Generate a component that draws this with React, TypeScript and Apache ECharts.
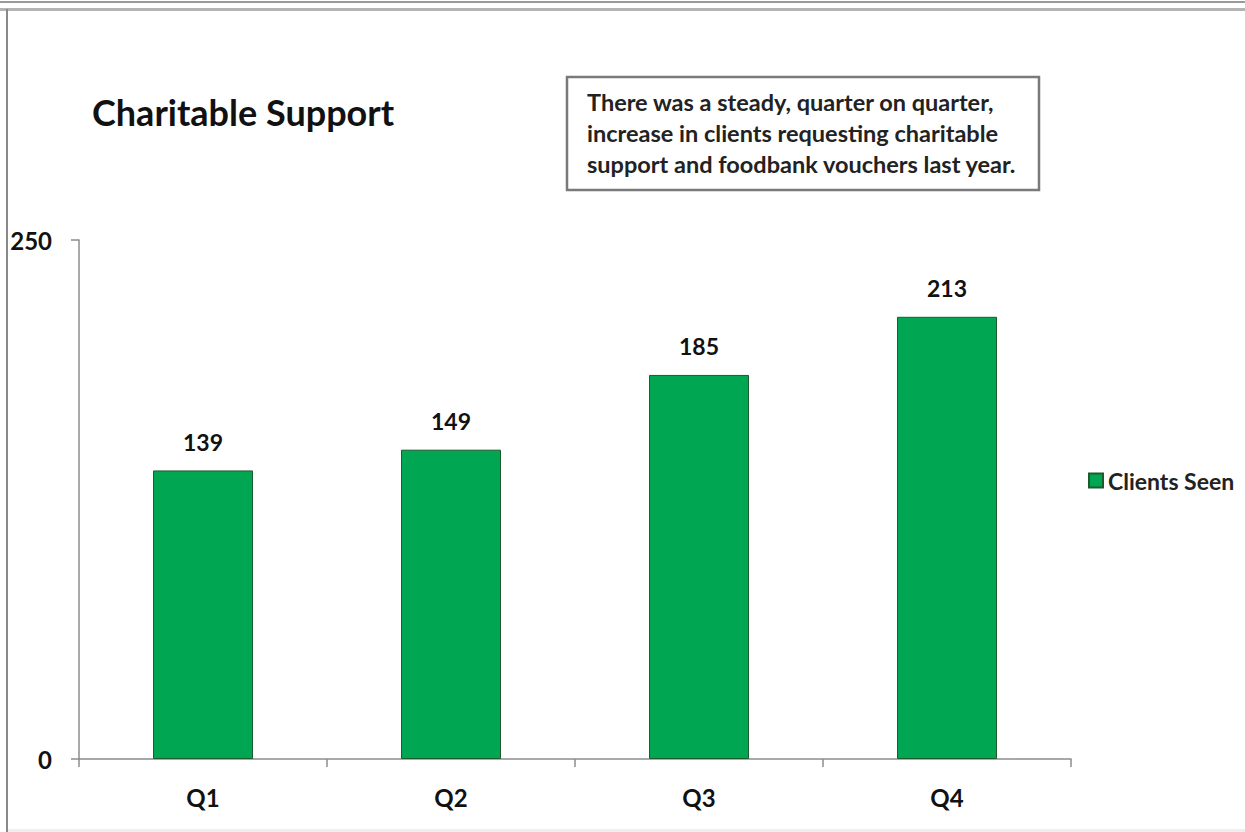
import React, { useEffect, useRef } from "react";
import * as echarts from "echarts";

const categories = ["Q1", "Q2", "Q3", "Q4"];
const clientsSeen = [139, 149, 185, 213];
const yTicks = [0, 250];
const seriesName = "Clients Seen";
const titleText = "Charitable Support";
const noteLines = [
  "There was a steady, quarter on quarter,",
  "increase in clients requesting charitable",
  "support and foodbank vouchers last year.",
];

const FONT = "Lato, 'Open Sans', sans-serif";

export default function App() {
  const ref = useRef<HTMLDivElement>(null);
  useEffect(() => {
    if (!ref.current) return;
    const chart = echarts.init(ref.current, null, { renderer: "svg" });
    chart.setOption({
      animation: false,
      backgroundColor: "#ffffff",
      textStyle: { fontFamily: FONT },
      title: {
        text: titleText,
        left: 87,
        top: 89,
        textStyle: { fontFamily: FONT, fontSize: 36, fontWeight: "bold", color: "#111" },
      },
      legend: {
        data: [seriesName],
        orient: "vertical",
        left: 1088,
        top: 469,
        padding: 0,
        itemWidth: 14,
        itemHeight: 14,
        textStyle: { fontFamily: FONT, fontSize: 23, fontWeight: "bold", color: "#222" },
        icon: "rect",
      },
      grid: { left: 79, top: 240, right: 174, bottom: 73, containLabel: false },
      xAxis: {
        type: "category",
        data: categories,
        boundaryGap: true,
        axisLine: { show: true, lineStyle: { color: "#8c8c8c", width: 1.5 } },
        axisTick: { show: true, alignWithLabel: false, length: 8, lineStyle: { color: "#8c8c8c", width: 1.5 } },
        axisLabel: { fontFamily: FONT, fontSize: 24, fontWeight: "bold", color: "#111", margin: 26 },
        splitLine: { show: false },
      },
      yAxis: {
        type: "value",
        min: yTicks[0],
        max: yTicks[yTicks.length - 1],
        interval: yTicks[yTicks.length - 1] - yTicks[0],
        axisLine: { show: true, lineStyle: { color: "#8c8c8c", width: 1.5 } },
        axisTick: { show: true, length: 8, lineStyle: { color: "#8c8c8c", width: 1.5 } },
        axisLabel: { fontFamily: FONT, fontSize: 24, fontWeight: "bold", color: "#111", margin: 27 },
        splitLine: { show: false },
      },
      series: [
        {
          name: seriesName,
          type: "bar",
          data: clientsSeen,
          barWidth: 100,
          itemStyle: { color: "#00a651", borderColor: "#1d5a2e", borderWidth: 1 },
          label: {
            show: true,
            position: "top",
            distance: 17,
            fontFamily: FONT,
            fontSize: 23,
            fontWeight: "bold",
            color: "#111",
          },
        },
      ],
      graphic: [
        { type: "rect", shape: { x: 0, y: 1, width: 1245, height: 2 }, style: { fill: "#9a9a9a" }, silent: true },
        { type: "rect", shape: { x: 0, y: 8, width: 1245, height: 3 }, style: { fill: "#b4b4b4" }, silent: true },
        { type: "rect", shape: { x: 6, y: 9, width: 2, height: 823 }, style: { fill: "#8a8a8a" }, silent: true },
        { type: "rect", shape: { x: 8, y: 829, width: 1237, height: 3 }, style: { fill: "#eeeeee" }, silent: true },
        {
          type: "rect",
          shape: { x: 567, y: 77, width: 472, height: 113 },
          style: { fill: "#ffffff", stroke: "#7a7a7a", lineWidth: 2.5 },
          silent: true,
        },
        {
          type: "text",
          left: 587,
          top: 86,
          style: {
            text: noteLines.join("\n"),
            fontFamily: FONT,
            fontSize: 23.5,
            fontWeight: "bold",
            lineHeight: 31,
            fill: "#222",
          },
          silent: true,
        },
      ],
    });
    return () => chart.dispose();
  }, []);
  return (
    <div
      ref={ref}
      style={{ position: "fixed", left: 0, top: 0, width: 1245, height: 832, background: "#fff" }}
    />
  );
}
